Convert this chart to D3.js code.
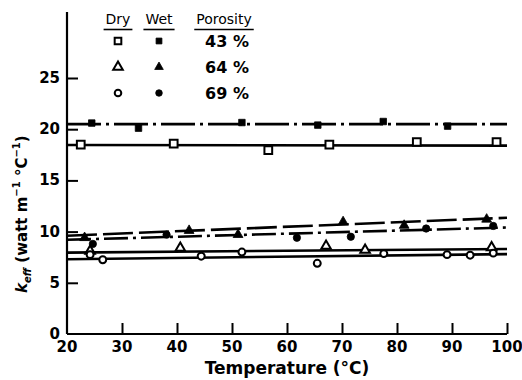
<!DOCTYPE html>
<html>
<head>
<meta charset="utf-8">
<script src="https://cdn.jsdelivr.net/npm/d3@7"></script>
<style>
  html, body { margin: 0; padding: 0; background: #fff; }
  svg { display: block; font-family: "DejaVu Sans", sans-serif; }
</style>
</head>
<body>
<svg id="chart" width="522" height="380"></svg>
<script>
// Effective thermal conductivity vs temperature, dry and wet samples
const xTicks = [20, 30, 40, 50, 60, 70, 80, 90, 100];
const yTicks = [5, 10, 15, 20, 25];

// 43 % porosity
const dry43T = [22.5, 39.4, 56.6, 67.7, 83.6, 98.1];
const dry43K = [18.5, 18.6, 17.95, 18.5, 18.75, 18.75];
const wet43T = [24.5, 33.0, 51.8, 65.6, 77.5, 89.2];
const wet43K = [20.6, 20.1, 20.65, 20.4, 20.75, 20.3];

// 64 % porosity
const dry64T = [24.2, 40.6, 67.1, 74.2, 97.2];
const dry64K = [8.1, 8.4, 8.6, 8.2, 8.45];
const wet64T = [23.2, 42.2, 51.1, 70.2, 81.3, 96.3];
const wet64K = [9.4, 10.1, 9.7, 10.95, 10.6, 11.2];

// 69 % porosity
const dry69T = [24.2, 26.5, 44.4, 51.8, 65.5, 77.6, 89.1, 93.3, 97.5];
const dry69K = [7.75, 7.25, 7.6, 8.0, 6.9, 7.85, 7.75, 7.7, 7.9];
const wet69T = [24.7, 38.1, 61.8, 71.6, 85.3, 97.5];
const wet69K = [8.8, 9.7, 9.4, 9.5, 10.3, 10.55];

// fitted lines: k at 20 °C and at 100 °C
const fitT = [20, 100];
const fitDry43 = [18.45, 18.4];
const fitWet43 = [20.5, 20.5];
const fitDry64 = [7.95, 8.3];
const fitWet64 = [9.6, 11.35];
const fitDry69 = [7.3, 7.8];
const fitWet69 = [9.2, 10.4];

const legendRows = ["43 %", "64 %", "69 %"];

const svg = d3.select("#chart");
const x = d3.scaleLinear().domain([20, 100]).range([67, 507]);
const y = d3.scaleLinear().domain([0, 25]).range([334, 78]);
const yTop = 12;

// axes
const axisG = svg.append("g");
axisG.append("line").attr("x1", x(20)).attr("x2", x(100)).attr("y1", y(0)).attr("y2", y(0))
  .attr("stroke", "#000").attr("stroke-width", 2.2);
axisG.append("line").attr("x1", x(20)).attr("x2", x(20)).attr("y1", y(0)).attr("y2", yTop)
  .attr("stroke", "#000").attr("stroke-width", 2.2);

const xAxis = d3.axisTop(x).tickValues(xTicks.slice(1)).tickSize(11).tickFormat("");
svg.append("g").attr("transform", `translate(0,${y(0)})`).call(xAxis)
  .call(g => g.select(".domain").remove())
  .selectAll("line").attr("stroke-width", 2);

const yAxis = d3.axisRight(y).tickValues(yTicks).tickSize(11).tickFormat("");
svg.append("g").attr("transform", `translate(${x(20)},0)`).call(yAxis)
  .call(g => g.select(".domain").remove())
  .selectAll("line").attr("stroke-width", 2);

// tick labels
svg.append("g").selectAll("text").data(xTicks).join("text")
  .attr("x", d => x(d)).attr("y", y(0) + 18)
  .attr("text-anchor", "middle").attr("font-size", 15).attr("font-weight", "bold")
  .text(d => d);
svg.append("g").selectAll("text").data([0].concat(yTicks)).join("text")
  .attr("x", x(20) - 7).attr("y", d => y(d) + 5)
  .attr("text-anchor", "end").attr("font-size", 15).attr("font-weight", "bold")
  .text(d => d);

// axis titles
svg.append("text").attr("x", x(60)).attr("y", 374)
  .attr("text-anchor", "middle").attr("font-size", 17).attr("font-weight", "bold")
  .text("Temperature (°C)");

const yl = svg.append("text")
  .attr("transform", `translate(27,${y(11.7)}) rotate(-90)`)
  .attr("text-anchor", "middle").attr("font-size", 15).attr("font-weight", "bold");
yl.append("tspan").attr("font-style", "italic").text("k");
yl.append("tspan").attr("font-size", 10).attr("font-style", "italic").attr("dy", 4).text("eff");
yl.append("tspan").attr("dy", -4).text(" (watt m");
yl.append("tspan").attr("font-size", 10).attr("dy", -7).text("−1");
yl.append("tspan").attr("dy", 7).text(" °C");
yl.append("tspan").attr("font-size", 10).attr("dy", -7).text("−1");
yl.append("tspan").attr("dy", 7).text(")");

// fitted lines
const fits = [
  { k: fitDry43, dash: null },
  { k: fitWet43, dash: "34,5,3,5" },
  { k: fitDry64, dash: null },
  { k: fitWet64, dash: "30,6" },
  { k: fitDry69, dash: null },
  { k: fitWet69, dash: "24,5,3,5" }
];
const line = d3.line().x(d => x(d[0])).y(d => y(d[1]));
svg.append("g").selectAll("path").data(fits).join("path")
  .attr("d", f => line(fitT.map((t, i) => [t, f.k[i]])))
  .attr("fill", "none").attr("stroke", "#000").attr("stroke-width", 2.6)
  .attr("stroke-dasharray", f => f.dash);

// marker shapes
const sq = d3.symbol().type(d3.symbolSquare);
const tri = d3.symbol().type(d3.symbolTriangle);
const circ = d3.symbol().type(d3.symbolCircle);

function marker(g, shape, size, filled) {
  g.append("path")
    .attr("d", shape.size(size)())
    .attr("fill", filled ? "#000" : "#fff")
    .attr("stroke", "#000").attr("stroke-width", filled ? 0.8 : 2);
}

const series = [
  { T: dry43T, K: dry43K, shape: sq, size: 60, filled: false },
  { T: wet43T, K: wet43K, shape: sq, size: 42, filled: true },
  { T: dry64T, K: dry64K, shape: tri, size: 40, filled: false },
  { T: wet64T, K: wet64K, shape: tri, size: 42, filled: true },
  { T: dry69T, K: dry69K, shape: circ, size: 38, filled: false },
  { T: wet69T, K: wet69K, shape: circ, size: 42, filled: true }
];
series.forEach(s => {
  s.T.forEach((t, i) => {
    const g = svg.append("g").attr("transform", `translate(${x(t)},${y(s.K[i])})`);
    marker(g, s.shape, s.size, s.filled);
  });
});

// legend
const lg = svg.append("g").attr("font-weight", "bold");
const heads = [{ t: "Dry", cx: 118 }, { t: "Wet", cx: 159 }, { t: "Porosity", cx: 224 }];
heads.forEach(h => {
  const txt = lg.append("text").attr("x", h.cx).attr("y", 24)
    .attr("text-anchor", "middle").attr("font-size", 14).attr("font-weight", "normal").text(h.t);
  const w = txt.node().getComputedTextLength();
  lg.append("line").attr("x1", h.cx - w / 2 - 2).attr("x2", h.cx + w / 2 + 2)
    .attr("y1", 29.5).attr("y2", 29.5).attr("stroke", "#000").attr("stroke-width", 1.6);
});
const legendShapes = [[sq, 44, 34], [tri, 40, 32], [circ, 34, 34]];
const rowY = [41, 67, 93];
legendRows.forEach((r, i) => {
  const [shape, sOpen, sFill] = legendShapes[i];
  marker(lg.append("g").attr("transform", `translate(118,${rowY[i]})`), shape, sOpen, false);
  marker(lg.append("g").attr("transform", `translate(159,${rowY[i]})`), shape, sFill, true);
  lg.append("text").attr("x", 227).attr("y", rowY[i] + 6)
    .attr("text-anchor", "middle").attr("font-size", 16).text(r);
});
</script>
</body>
</html>
